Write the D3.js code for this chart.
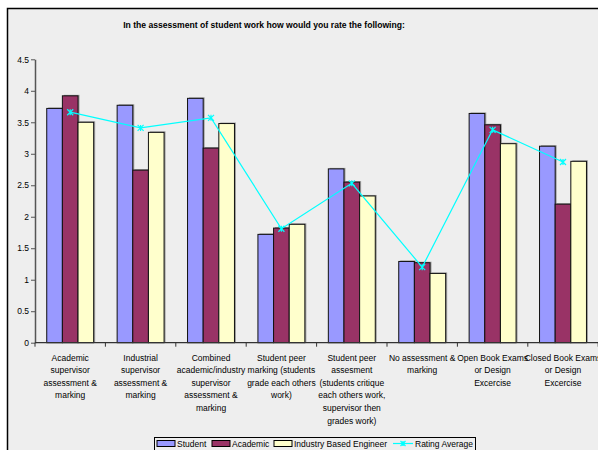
<!DOCTYPE html>
<html>
<head>
<meta charset="utf-8">
<script src="https://cdn.jsdelivr.net/npm/d3@7"></script>
<style>
  html, body { margin: 0; padding: 0; background: #fff; }
  svg { display: block; }
  text { font-family: "Liberation Sans", Arial, sans-serif; fill: #000; }
</style>
</head>
<body>
<svg id="chart" width="598" height="450"></svg>
<script>
// Survey categories (multi-line labels as shown under the axis)
const categories = [
  ["Academic", "supervisor", "assessment &", "marking"],
  ["Industrial", "supervisor", "assessment &", "marking"],
  ["Combined", "academic/industry", "supervisor", "assessment &", "marking"],
  ["Student peer", "marking (students", "grade each others", "work)"],
  ["Student peer", "assesment", "(students critique", "each others work,", "supervisor then", "grades work)"],
  ["No assessment &", "marking"],
  ["Open Book Exams", "or Design", "Excercise"],
  ["Closed Book Exams", "or Design", "Excercise"]
];

const seriesNames = ["Student", "Academic", "Industry Based Engineer"];
const student  = [3.72, 3.77, 3.88, 1.72, 2.76, 1.29, 3.64, 3.12];
const academic = [3.92, 2.74, 3.09, 1.82, 2.55, 1.27, 3.46, 2.20];
const industry = [3.50, 3.34, 3.48, 1.88, 2.33, 1.10, 3.16, 2.88];
const ratingAverage = [3.66, 3.41, 3.57, 1.81, 2.53, 1.20, 3.38, 2.87];
const lineName = "Rating Average";

const yTicks = [0, 0.5, 1, 1.5, 2, 2.5, 3, 3.5, 4, 4.5];
const title = "In the assessment of student work how would you rate the following:";

const colors = ["#9999FF", "#993366", "#FFFFCC"];
const lineColor = "#00FFFF";
const bg = "#EEEEEE";

const svg = d3.select("#chart");

// chart frame
svg.append("rect").attr("x", 7.5).attr("y", 8.5).attr("width", 600).attr("height", 450)
  .attr("fill", bg).attr("stroke", "#000").attr("stroke-width", 1.5);

const plot = { left: 35, right: 598.2, top: 59.3, bottom: 342.7 };

const x0 = d3.scaleBand().domain(d3.range(categories.length))
  .range([plot.left, plot.right]).paddingInner(0).paddingOuter(0);
// bars fill the middle of each category; the remaining gap is 150% of a bar
const x1 = d3.scaleBand().domain(d3.range(3))
  .range([0, x0.bandwidth()]).paddingInner(0).paddingOuter(0.75);
const y = d3.scaleLinear().domain([0, 4.5]).range([plot.bottom, plot.top]);

// title
svg.append("text").attr("x", 264).attr("y", 27.5).attr("text-anchor", "middle")
  .attr("font-weight", "bold").attr("font-size", "8.6px").text(title);

// bars
const series = [student, academic, industry];
const bw = x1.bandwidth();
series.forEach((vals, si) => {
  const g = svg.append("g");
  // soft drop shadow
  g.selectAll("rect.sh").data(vals).join("rect")
    .attr("x", (d, i) => x0(i) + x1(si) + 1.5)
    .attr("y", d => y(d) - 1)
    .attr("width", bw)
    .attr("height", d => plot.bottom - y(d) + 1)
    .attr("fill", "#8a8a8a").attr("opacity", 0.8);
  g.selectAll("rect.bar").data(vals).join("rect")
    .attr("x", (d, i) => x0(i) + x1(si))
    .attr("y", d => y(d))
    .attr("width", bw)
    .attr("height", d => plot.bottom - y(d))
    .attr("fill", colors[si]).attr("stroke", "#111").attr("stroke-width", 1);
});

// y axis
const yAxis = d3.axisLeft(y).tickValues(yTicks).tickSize(4).tickSizeOuter(0)
  .tickFormat(d3.format("~g"));
const ya = svg.append("g").attr("transform", `translate(${plot.left},0)`).call(yAxis);
ya.select(".domain").attr("stroke", "#555").attr("stroke-width", 1.5);
ya.selectAll(".tick line").attr("stroke", "#555");
ya.selectAll(".tick text").attr("font-size", "8.5px")
  .attr("font-family", "Liberation Sans, Arial, sans-serif").attr("fill", "#000").attr("x", -6);

// x axis line with boundary ticks
const xa = svg.append("g");
xa.append("line").attr("x1", plot.left).attr("x2", plot.right)
  .attr("y1", plot.bottom).attr("y2", plot.bottom).attr("stroke", "#333").attr("stroke-width", 1.2);
xa.selectAll("line.tk").data(d3.range(categories.length + 1)).join("line")
  .attr("x1", i => plot.left + i * x0.step()).attr("x2", i => plot.left + i * x0.step())
  .attr("y1", plot.bottom).attr("y2", plot.bottom + 4).attr("stroke", "#333");

// category labels
categories.forEach((lines, i) => {
  const t = svg.append("text").attr("text-anchor", "middle").attr("font-size", "8.5px")
    .attr("x", x0(i) + x0.bandwidth() / 2).attr("y", 360.5);
  lines.forEach((ln, k) => {
    t.append("tspan").attr("x", x0(i) + x0.bandwidth() / 2).attr("dy", k === 0 ? 0 : 12.6).text(ln);
  });
});

// rating average line
const cx = i => x0(i) + x0.bandwidth() / 2;
const line = d3.line().x((d, i) => cx(i)).y(d => y(d));
svg.append("path").datum(ratingAverage).attr("d", line)
  .attr("fill", "none").attr("stroke", lineColor).attr("stroke-width", 1.2);

function starMarker(g, px, py, s) {
  g.append("path")
    .attr("d", `M${px - s},${py - s}L${px + s},${py + s}M${px - s},${py + s}L${px + s},${py - s}M${px},${py - s}L${px},${py + s}`)
    .attr("stroke", lineColor).attr("stroke-width", 1.2).attr("fill", "none");
}
const mk = svg.append("g");
ratingAverage.forEach((d, i) => starMarker(mk, cx(i), y(d), 3));

// legend
const lg = svg.append("g");
lg.append("rect").attr("x", 154.5).attr("y", 437.5).attr("width", 321).attr("height", 20)
  .attr("fill", bg).attr("stroke", "#000").attr("stroke-width", 1);
const legendItems = [
  { name: seriesNames[0], x: 157, type: "bar", c: colors[0] },
  { name: seriesNames[1], x: 212, type: "bar", c: colors[1] },
  { name: seriesNames[2], x: 274, type: "bar", c: colors[2] },
  { name: lineName, x: 393, type: "line", c: lineColor }
];
legendItems.forEach(it => {
  if (it.type === "bar") {
    lg.append("rect").attr("x", it.x).attr("y", 440.5).attr("width", 18).attr("height", 6)
      .attr("fill", it.c).attr("stroke", "#000").attr("stroke-width", 1);
    lg.append("text").attr("x", it.x + 20).attr("y", 447).attr("font-size", "8.5px").text(it.name);
  } else {
    lg.append("line").attr("x1", it.x).attr("x2", it.x + 20).attr("y1", 443.5).attr("y2", 443.5)
      .attr("stroke", it.c).attr("stroke-width", 1.2);
    starMarker(lg, it.x + 10, 443.5, 2.5);
    lg.append("text").attr("x", it.x + 22).attr("y", 447).attr("font-size", "8.5px").text(it.name);
  }
});
</script>
</body>
</html>
